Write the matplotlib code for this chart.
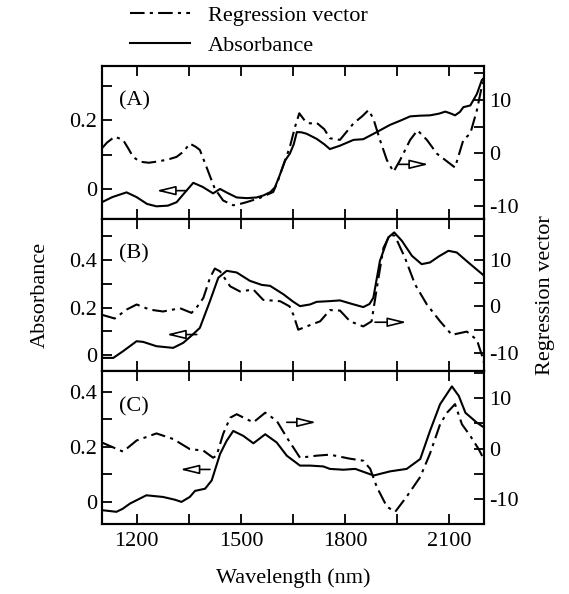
import matplotlib
matplotlib.use("Agg")
import matplotlib.pyplot as plt
from matplotlib.ticker import MultipleLocator, FuncFormatter
from matplotlib.lines import Line2D

plt.rcParams['font.family'] = ['Liberation Serif', 'DejaVu Serif']
plt.rcParams['axes.unicode_minus'] = False

# ---- panel A ----
a_abs_wl = [1100, 1130, 1171, 1200, 1230, 1257, 1290, 1315, 1340, 1363, 1390, 1420, 1440, 1460,
            1488, 1517, 1545, 1565, 1585, 1598, 1612, 1627, 1641, 1652, 1661, 1675, 1689, 1718,
            1740, 1756, 1785, 1824, 1852, 1891, 1929, 1960, 1987, 2015, 2044, 2070, 2088, 2105,
            2116, 2130, 2140, 2160, 2179, 2193, 2200]
a_abs = [-0.040, -0.025, -0.011, -0.025, -0.045, -0.052, -0.050, -0.040, -0.010, 0.017, 0.005,
         -0.014, -0.001, -0.012, -0.026, -0.028, -0.026, -0.020, -0.010, 0.004, 0.040, 0.082,
         0.103, 0.130, 0.166, 0.165, 0.161, 0.146, 0.130, 0.116, 0.126, 0.143, 0.145, 0.166,
         0.187, 0.200, 0.212, 0.214, 0.215, 0.220, 0.226, 0.220, 0.215, 0.225, 0.239, 0.244,
         0.278, 0.318, 0.326]
a_reg_wl = [1100, 1115, 1137, 1161, 1175, 1190, 1209, 1235, 1257, 1290, 1315, 1335, 1353, 1370,
            1382, 1401, 1425, 1449, 1478, 1500, 1517, 1555, 1593, 1605, 1617, 1641, 1656, 1668,
            1685, 1699, 1718, 1740, 1756, 1785, 1824, 1850, 1867, 1881, 1900, 1920, 1939, 1958,
            1987, 2008, 2035, 2064, 2088, 2116, 2140, 2160, 2179, 2193, 2200]
a_reg = [0.9, 2.0, 3.1, 2.5, 1.0, -0.7, -1.6, -1.8, -1.6, -1.2, -0.7, 0.3, 1.8, 1.2, 0.6, -2.6,
         -6.7, -8.9, -9.8, -9.5, -9.2, -8.4, -7.3, -5.5, -3.2, 1.2, 5.0, 7.5, 6.0, 5.6, 5.7, 4.5,
         2.8, 2.5, 5.6, 7.0, 8.1, 6.5, 2.5, -1.3, -3.5, -1.3, 2.5, 4.3, 2.5, -0.1, -1.3, -2.7,
         2.5, 3.7, 8.1, 12.5, 13.8]

# ---- panel B ----
b_abs_wl = [1100, 1133, 1161, 1200, 1219, 1257, 1305, 1334, 1360, 1382, 1411, 1435, 1459, 1488,
            1526, 1560, 1584, 1622, 1650, 1670, 1699, 1718, 1756, 1785, 1820, 1852, 1870, 1881,
            1900, 1924, 1941, 1963, 1992, 2020, 2044, 2070, 2097, 2121, 2160, 2200]
b_abs = [-0.011, -0.011, 0.017, 0.059, 0.056, 0.038, 0.031, 0.052, 0.085, 0.115, 0.227, 0.325,
         0.354, 0.347, 0.312, 0.295, 0.291, 0.256, 0.225, 0.206, 0.213, 0.224, 0.227, 0.230,
         0.215, 0.202, 0.215, 0.241, 0.396, 0.494, 0.515, 0.480, 0.417, 0.382, 0.389, 0.415,
         0.438, 0.431, 0.382, 0.333]
b_reg_wl = [1100, 1137, 1171, 1200, 1238, 1276, 1325, 1358, 1375, 1392, 1411, 1425, 1440, 1469,
            1497, 1536, 1564, 1613, 1640, 1651, 1665, 1689, 1728, 1756, 1785, 1814, 1852, 1876,
            1891, 1910, 1929, 1943, 1972, 2001, 2035, 2073, 2107, 2150, 2179, 2193, 2200]
b_reg = [-1.8, -2.6, -0.7, 0.4, -0.7, -1.1, -0.4, -1.4, 0.0, 1.8, 6.1, 8.1, 7.5, 4.3, 3.2, 3.6,
         1.4, 1.1, 0.0, -1.8, -5.0, -4.3, -3.2, -0.8, -0.9, -3.2, -4.3, -3.2, 3.9, 12.5, 15.4,
         15.1, 10.4, 4.7, 0.4, -3.2, -6.1, -5.4, -7.2, -10.4, -12.3]

# ---- panel C ----
c_abs_wl = [1100, 1142, 1160, 1181, 1228, 1276, 1310, 1329, 1353, 1368, 1397, 1416, 1440, 1459,
            1478, 1507, 1536, 1570, 1603, 1632, 1670, 1699, 1737, 1756, 1795, 1829, 1882, 1929,
            1977, 2016, 2044, 2073, 2107, 2127, 2146, 2179, 2200]
c_abs = [-0.030, -0.036, -0.025, -0.006, 0.024, 0.018, 0.008, 0.000, 0.018, 0.040, 0.048, 0.078,
         0.174, 0.222, 0.258, 0.240, 0.213, 0.246, 0.216, 0.168, 0.132, 0.132, 0.129, 0.120,
         0.117, 0.120, 0.096, 0.111, 0.120, 0.156, 0.258, 0.355, 0.420, 0.385, 0.324, 0.288, 0.270]
c_reg_wl = [1100, 1161, 1200, 1257, 1305, 1353, 1392, 1420, 1430, 1449, 1469, 1488, 1517, 1536,
            1570, 1603, 1632, 1670, 1718, 1756, 1814, 1852, 1872, 1891, 1920, 1944, 1977, 2016,
            2044, 2073, 2093, 2116, 2136, 2160, 2184, 2198]
c_reg = [1.2, -0.6, 1.6, 3.0, 1.9, -0.1, -0.4, -1.8, -1.4, 2.9, 6.1, 6.8, 5.8, 5.2, 7.1, 5.5, 2.2,
         -1.8, -1.4, -1.2, -2.0, -2.4, -4.0, -7.6, -11.5, -12.5, -9.5, -5.6, -1.0, 4.8, 7.1, 8.8,
         4.8, 2.5, -0.1, -2.0]

panels = [
    ("(A)", a_abs_wl, a_abs, a_reg_wl, a_reg, (-0.088, 0.36), (-12.3, 16.4),
     ((1344, -0.006), (1257, -0.006)), ((1953, -2.1), (2040, -2.1))),
    ("(B)", b_abs_wl, b_abs, b_reg_wl, b_reg, (-0.067, 0.573), (-13.9, 18.8),
     ((1373, 0.087), (1286, 0.087)), ((1886, -3.4), (1977, -3.4))),
    ("(C)", c_abs_wl, c_abs, c_reg_wl, c_reg, (-0.08, 0.475), (-14.9, 15.3),
     ((1411, 0.118), (1325, 0.118)), ((1632, 5.2), (1717, 5.2))),
]

fig = plt.figure(figsize=(5.69, 5.94), dpi=100)
gs = fig.add_gridspec(3, 1, left=0.179, right=0.851, top=0.889, bottom=0.118, hspace=0)

dash = (7, 2.5, 1.5, 2.5)
lw = 1.5
fs = 16
arrow = dict(arrowstyle='-|>,head_length=1.15,head_width=0.28', fc='white', ec='black',
             lw=1.2, shrinkA=0, shrinkB=0)

def fmt_abs(v, pos):
    return "0" if abs(v) < 1e-9 else "%.1f" % v

for i, (lab, xw, ya, xr, yr, ylim_l, ylim_r, arr_l, arr_r) in enumerate(panels):
    ax = fig.add_subplot(gs[i])
    ax2 = ax.twinx()
    ax.plot(xw, ya, color='black', lw=lw)
    ax2.plot(xr, yr, color='black', lw=lw, dashes=dash)
    ax.set_xlim(1100, 2200)
    ax.set_ylim(*ylim_l)
    ax2.set_ylim(*ylim_r)

    ax.xaxis.set_major_locator(MultipleLocator(300))
    ax.xaxis.set_minor_locator(MultipleLocator(150))
    ax.yaxis.set_major_locator(MultipleLocator(0.2))
    ax.yaxis.set_minor_locator(MultipleLocator(0.1))
    ax.yaxis.set_major_formatter(FuncFormatter(fmt_abs))
    ax2.yaxis.set_major_locator(MultipleLocator(10))
    ax2.yaxis.set_minor_locator(MultipleLocator(5))

    for a in (ax, ax2):
        a.tick_params(which='both', direction='in', length=7, width=1.3, labelsize=fs)
        for s in a.spines.values():
            s.set_linewidth(1.5)
    ax.tick_params(which='both', top=True, bottom=True, left=True, right=False)
    ax2.tick_params(which='both', right=True, left=False)
    ax.tick_params(axis='x', pad=6)
    if i < 2:
        ax.tick_params(axis='x', labelbottom=False)

    ax.text(0.045, 0.77, lab, transform=ax.transAxes, fontsize=fs, va='center', ha='left')
    ax.annotate("", xy=arr_l[1], xytext=arr_l[0], arrowprops=arrow)
    ax2.annotate("", xy=arr_r[1], xytext=arr_r[0], arrowprops=arrow)

fig.text(0.07, 0.503, "Absorbance", rotation=90, fontsize=fs, ha='center', va='center')
fig.text(0.958, 0.503, "Regression vector", rotation=90, fontsize=fs, ha='center', va='center')
fig.text(0.515, 0.027, "Wavelength (nm)", fontsize=fs, ha='center', va='center')

handles = [Line2D([], [], color='black', lw=lw, dashes=dash),
           Line2D([], [], color='black', lw=lw)]
fig.legend(handles, ["Regression vector", "Absorbance"], loc='upper left',
           bbox_to_anchor=(0.193, 1.025), frameon=False, fontsize=fs,
           handlelength=2.7, handletextpad=0.8, labelspacing=0.45)

fig.savefig("out.png", dpi=100)
